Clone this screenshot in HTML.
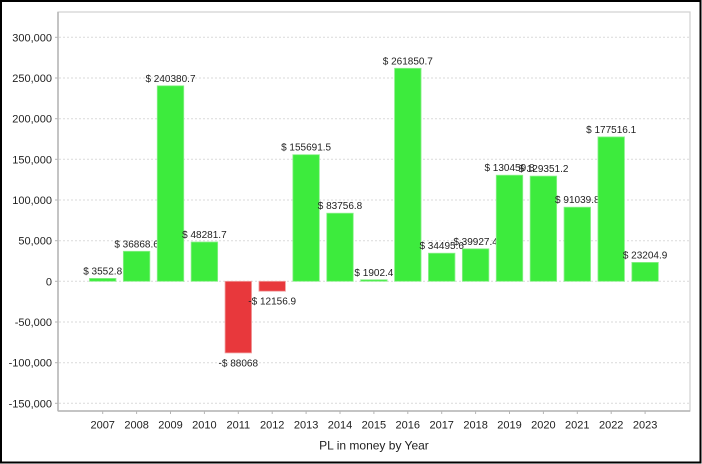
<!DOCTYPE html>
<html><head><meta charset="utf-8"><style>
html,body{margin:0;padding:0;background:#fff;}
svg{display:block;}
text{font-family:"Liberation Sans",Arial,sans-serif;fill:#222;}
</style></head><body>
<svg width="702" height="464" viewBox="0 0 702 464" xmlns="http://www.w3.org/2000/svg">
<rect x="0" y="0" width="702" height="464" fill="#fff"/>
<rect x="1" y="1" width="699.5" height="461.5" fill="none" stroke="#000" stroke-width="2"/>
<!-- plot border -->
<rect x="58" y="12" width="632" height="399" fill="#fff" stroke="#d0d0d0" stroke-width="1.2"/>
<!-- gridlines -->
<g stroke="#dadada" stroke-width="1" stroke-dasharray="2,2">
<line x1="59" x2="689" y1="37.3" y2="37.3"/>
<line x1="59" x2="689" y1="78.0" y2="78.0"/>
<line x1="59" x2="689" y1="118.7" y2="118.7"/>
<line x1="59" x2="689" y1="159.3" y2="159.3"/>
<line x1="59" x2="689" y1="200.0" y2="200.0"/>
<line x1="59" x2="689" y1="240.7" y2="240.7"/>
<line x1="59" x2="689" y1="281.3" y2="281.3"/>
<line x1="59" x2="689" y1="322.0" y2="322.0"/>
<line x1="59" x2="689" y1="362.7" y2="362.7"/>
<line x1="59" x2="689" y1="403.3" y2="403.3"/>
</g>
<!-- axes -->
<line x1="58" y1="12" x2="58" y2="411" stroke="#b4b4b4" stroke-width="1.5"/>
<line x1="58" y1="411" x2="690" y2="411" stroke="#b4b4b4" stroke-width="1.5"/>
<g stroke="#b4b4b4" stroke-width="1">
<line x1="55" x2="58" y1="37.3" y2="37.3"/><line x1="55" x2="58" y1="78.0" y2="78.0"/><line x1="55" x2="58" y1="118.7" y2="118.7"/><line x1="55" x2="58" y1="159.3" y2="159.3"/><line x1="55" x2="58" y1="200.0" y2="200.0"/><line x1="55" x2="58" y1="240.7" y2="240.7"/><line x1="55" x2="58" y1="281.3" y2="281.3"/><line x1="55" x2="58" y1="322.0" y2="322.0"/><line x1="55" x2="58" y1="362.7" y2="362.7"/><line x1="55" x2="58" y1="403.3" y2="403.3"/>
<line x1="102.7" x2="102.7" y1="411" y2="414"/><line x1="136.6" x2="136.6" y1="411" y2="414"/><line x1="170.5" x2="170.5" y1="411" y2="414"/><line x1="204.4" x2="204.4" y1="411" y2="414"/><line x1="238.3" x2="238.3" y1="411" y2="414"/><line x1="272.2" x2="272.2" y1="411" y2="414"/><line x1="306.1" x2="306.1" y1="411" y2="414"/><line x1="340.0" x2="340.0" y1="411" y2="414"/><line x1="373.9" x2="373.9" y1="411" y2="414"/><line x1="407.8" x2="407.8" y1="411" y2="414"/><line x1="441.7" x2="441.7" y1="411" y2="414"/><line x1="475.6" x2="475.6" y1="411" y2="414"/><line x1="509.5" x2="509.5" y1="411" y2="414"/><line x1="543.4" x2="543.4" y1="411" y2="414"/><line x1="577.3" x2="577.3" y1="411" y2="414"/><line x1="611.2" x2="611.2" y1="411" y2="414"/><line x1="645.1" x2="645.1" y1="411" y2="414"/>
</g>
<!-- y labels -->
<g font-size="11" text-anchor="end">
<text x="52" y="41.3">300,000</text>
<text x="52" y="82.0">250,000</text>
<text x="52" y="122.7">200,000</text>
<text x="52" y="163.3">150,000</text>
<text x="52" y="204.0">100,000</text>
<text x="52" y="244.7">50,000</text>
<text x="52" y="285.3">0</text>
<text x="52" y="326.0">-50,000</text>
<text x="52" y="366.7">-100,000</text>
<text x="52" y="407.3">-150,000</text>
</g>
<!-- x labels -->
<g font-size="11" text-anchor="middle">
<text x="102.7" y="428.3">2007</text><text x="136.6" y="428.3">2008</text><text x="170.5" y="428.3">2009</text><text x="204.4" y="428.3">2010</text><text x="238.3" y="428.3">2011</text><text x="272.2" y="428.3">2012</text><text x="306.1" y="428.3">2013</text><text x="340.0" y="428.3">2014</text><text x="373.9" y="428.3">2015</text><text x="407.8" y="428.3">2016</text><text x="441.7" y="428.3">2017</text><text x="475.6" y="428.3">2018</text><text x="509.5" y="428.3">2019</text><text x="543.4" y="428.3">2020</text><text x="577.3" y="428.3">2021</text><text x="611.2" y="428.3">2022</text><text x="645.1" y="428.3">2023</text>
</g>
<text x="374" y="449.3" font-size="12" text-anchor="middle">PL in money by Year</text>
<!-- bars and labels -->
<g font-size="10" text-anchor="middle">
<rect x="89.45" y="278.4" width="26.5" height="2.9" fill="#3deb3d" stroke="#8cf08c" stroke-width="0.8"/>
<text x="102.7" y="274.4">$ 3552.8</text>
<rect x="123.35" y="251.3" width="26.5" height="30.0" fill="#3deb3d" stroke="#8cf08c" stroke-width="0.8"/>
<text x="136.6" y="247.3">$ 36868.6</text>
<rect x="157.25" y="85.8" width="26.5" height="195.5" fill="#3deb3d" stroke="#8cf08c" stroke-width="0.8"/>
<text x="170.5" y="81.8">$ 240380.7</text>
<rect x="191.15" y="242.0" width="26.5" height="39.3" fill="#3deb3d" stroke="#8cf08c" stroke-width="0.8"/>
<text x="204.4" y="238.0">$ 48281.7</text>
<rect x="225.05" y="281.3" width="26.5" height="71.6" fill="#e8383c" stroke="#f0a0a0" stroke-width="0.8"/>
<text x="238.3" y="366.3">-$ 88068</text>
<rect x="258.95" y="281.3" width="26.5" height="9.9" fill="#e8383c" stroke="#f0a0a0" stroke-width="0.8"/>
<text x="272.2" y="304.5">-$ 12156.9</text>
<rect x="292.85" y="154.7" width="26.5" height="126.6" fill="#3deb3d" stroke="#8cf08c" stroke-width="0.8"/>
<text x="306.1" y="150.7">$ 155691.5</text>
<rect x="326.75" y="213.2" width="26.5" height="68.1" fill="#3deb3d" stroke="#8cf08c" stroke-width="0.8"/>
<text x="340.0" y="209.2">$ 83756.8</text>
<rect x="360.65" y="279.75" width="26.5" height="1.55" fill="#3deb3d" stroke="#8cf08c" stroke-width="0.8"/>
<text x="373.9" y="275.75">$ 1902.4</text>
<rect x="394.55" y="68.3" width="26.5" height="213.0" fill="#3deb3d" stroke="#8cf08c" stroke-width="0.8"/>
<text x="407.8" y="64.3">$ 261850.7</text>
<rect x="428.45" y="253.2" width="26.5" height="28.1" fill="#3deb3d" stroke="#8cf08c" stroke-width="0.8"/>
<text x="441.7" y="249.2">$ 34495.6</text>
<rect x="462.35" y="248.8" width="26.5" height="32.5" fill="#3deb3d" stroke="#8cf08c" stroke-width="0.8"/>
<text x="475.6" y="244.8">$ 39927.4</text>
<rect x="496.25" y="175.2" width="26.5" height="106.1" fill="#3deb3d" stroke="#8cf08c" stroke-width="0.8"/>
<text x="509.5" y="171.2">$ 130459.8</text>
<rect x="530.15" y="176.1" width="26.5" height="105.2" fill="#3deb3d" stroke="#8cf08c" stroke-width="0.8"/>
<text x="543.4" y="172.1">$ 129351.2</text>
<rect x="564.05" y="207.2" width="26.5" height="74.1" fill="#3deb3d" stroke="#8cf08c" stroke-width="0.8"/>
<text x="577.3" y="203.2">$ 91039.8</text>
<rect x="597.95" y="136.9" width="26.5" height="144.4" fill="#3deb3d" stroke="#8cf08c" stroke-width="0.8"/>
<text x="611.2" y="132.9">$ 177516.1</text>
<rect x="631.85" y="262.4" width="26.5" height="18.9" fill="#3deb3d" stroke="#8cf08c" stroke-width="0.8"/>
<text x="645.1" y="258.4">$ 23204.9</text>
</g>
</svg>
</body></html>
